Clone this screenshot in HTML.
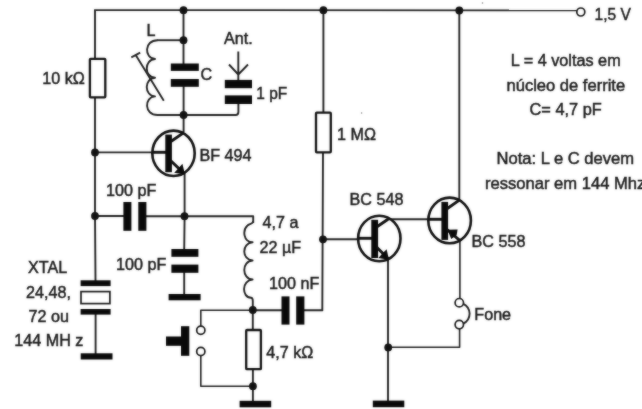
<!DOCTYPE html>
<html>
<head>
<meta charset="utf-8">
<title>Circuito</title>
<style>
html,body{margin:0;padding:0;background:#fff;}
body{width:642px;height:409px;overflow:hidden;}
svg{display:block;filter:blur(0.4px);}
#wrap{position:relative;width:642px;height:409px;overflow:hidden;}
#soft{position:absolute;left:0;top:0;width:642px;height:409px;-webkit-backdrop-filter:blur(1px);backdrop-filter:blur(1px);opacity:0.45;pointer-events:none;}
text{font-family:"Liberation Sans",sans-serif;font-size:17px;fill:#1c1c1c;stroke:#1c1c1c;stroke-width:0.5;}
.w{stroke:#222;stroke-width:1.9;fill:none;stroke-linecap:butt;stroke-linejoin:round;}
.k{stroke:#111;stroke-width:2.9;fill:none;stroke-linecap:butt;}
.t{stroke:#111;stroke-width:2.6;fill:none;}
.b{fill:#0a0a0a;stroke:none;}
.r{fill:#fff;stroke:#111;stroke-width:2.3;}
.c{fill:#fff;stroke:#1a1a1a;stroke-width:1.7;}
.d{fill:#111;}
</style>
</head>
<body>
<div id="wrap">
<svg width="642" height="409" viewBox="0 0 642 409">
<rect width="642" height="409" fill="#fff"/>
<g id="wires" class="w">
  <!-- top rail -->
  <path stroke-width="1.7" d="M94.1 10.1L577 10.4"/>
  <!-- left column -->
  <path d="M95 10V216L95.5 281M95.6 314V354"/>
  <!-- tank -->
  <path d="M183.5 10V64M183.6 86V132"/>
  <path d="M183.5 40.2H157"/>
  <path d="M157 115H235.6Q238.4 115 238.4 112V103"/>
  <path stroke-width="1.9" d="M238.3 51.5V80M229 64.5L238.3 74.5L248 64.5"/>
  <!-- inductor L -->
  <path stroke-width="1.9" d="M157.5 40.2C144 40.2 144 58.2 155 59C144 59.8 144 77 155 77.8C144 78.6 144 95.6 155 96.4C144 97.2 144 115 157.5 115"/>
  <path d="M135.7 55L163.8 100.7M131.3 57.3L140.2 52.6"/>
  <!-- Q1 -->
  <path d="M95 152.4H153"/>
  <path d="M184.6 173V216L184.2 250M184.2 272V295"/>
  <path d="M95 216H124M146 216.2H253.2V223"/>
  <!-- choke -->
  <path stroke-width="1.9" d="M253.2 221C253 224.5 250 223 247.5 225.5C242.5 230 243 241.6 252.6 242.3C241.5 243.1 241.5 259.7 252.6 260.5C241.5 261.3 241.5 278.7 252.6 279.5C241.5 280.3 241.5 297.3 251 297.8Q252.8 298 252.8 301V310"/>
  <!-- bottom -->
  <path d="M252.8 310.3H282M304 310.3H322.9"/>
  <path d="M252.8 310V330M252.9 369V401"/>
  <path stroke-width="1.6" d="M253 310.3H200.8V326.2M200.8 355.6V386.2H253"/>
  <!-- 1M column -->
  <path d="M323.4 10V113M323 152L322.3 311"/>
  <path d="M323 239.2H358"/>
  <!-- Q2 / Q3 -->
  <path d="M388 258V401"/>
  <path d="M387.5 219.3H428.5"/>
  <path d="M459.3 10V201"/>
  <path stroke-width="1.6" d="M459.9 240V298.5M459.6 328.8V347.3H388"/>
  <path d="M463.3 303.8Q469.2 306.5 469.6 313.5Q469.6 320.5 463.3 323.6"/>
</g>
<g id="parts">
  <rect class="r" x="89.9" y="58.8" width="15.4" height="38.6" rx="0.8"/>
  <rect class="r" x="316" y="112.6" width="14.8" height="39.7" rx="0.8"/>
  <rect class="r" x="246.2" y="330" width="14.7" height="39.2" rx="0.8"/>
  <!-- caps -->
  <rect class="b" x="170.8" y="63.5" width="28" height="7.4"/>
  <rect class="b" x="170.8" y="79" width="28" height="7.8"/>
  <rect class="b" x="224.8" y="79.9" width="27.2" height="8.3"/>
  <rect class="b" x="224.8" y="95.4" width="27.2" height="8.6"/>
  <rect class="b" x="123.4" y="202" width="8" height="28.8"/>
  <rect class="b" x="138.3" y="202" width="8.1" height="28.8"/>
  <rect class="b" x="171.4" y="249" width="27" height="7.8"/>
  <rect class="b" x="171.4" y="264.6" width="27" height="8.2"/>
  <rect class="b" x="168.6" y="294" width="32" height="6.3"/>
  <rect class="b" x="281.5" y="296.4" width="8" height="28.2"/>
  <rect class="b" x="296.2" y="296.4" width="8.2" height="28.2"/>
  <rect class="b" x="239.6" y="400.8" width="31.6" height="6.5"/>
  <rect class="b" x="372.8" y="400.6" width="31.5" height="6.6"/>
  <!-- xtal -->
  <rect class="b" x="80.6" y="280.3" width="30" height="5.8"/>
  <rect class="c" x="81" y="291.6" width="28.9" height="12"/>
  <rect class="b" x="80.6" y="309" width="30" height="5.6"/>
  <rect class="b" x="80.7" y="353.3" width="31.8" height="6.2"/>
  <!-- push button -->
  <rect class="b" x="181" y="326.2" width="8.3" height="29.6"/>
  <rect class="b" x="166" y="336.5" width="16" height="9.3"/>
  <circle class="c" cx="200.8" cy="330.3" r="4.1"/>
  <circle class="c" cx="200.8" cy="351.5" r="4.1"/>
  <!-- fone -->
  <circle class="c" cx="459.3" cy="302.7" r="4.2"/>
  <circle class="c" cx="459.3" cy="324.6" r="4.2"/>
  <circle class="c" cx="580.8" cy="12" r="4"/>
  <!-- transistors -->
  <g id="q1">
    <ellipse class="t" cx="173.5" cy="153.3" rx="21.2" ry="22.7"/>
    <path class="k" stroke-width="3" d="M152.5 152.3H167"/>
    <rect class="b" x="165.3" y="134.6" width="6.6" height="37.6"/>
    <path class="k" d="M170.5 141.8L183.8 132.6M170.5 160.5L184.2 173.6"/>
    <path class="b" d="M185 174.6L174.2 172.8L178.3 168.6L182.4 163.8Z"/>
  </g>
  <g id="q2">
    <ellipse class="t" cx="379.3" cy="238.5" rx="21.2" ry="22.7"/>
    <path class="k" stroke-width="3" d="M358 238.3H373"/>
    <rect class="b" x="371.3" y="219.8" width="6.8" height="38.2"/>
    <path class="k" d="M377 226.8L388 219.2M377 247.5L388.2 258.8"/>
    <path class="b" d="M389 259.8L378.4 257.9L382.4 253.6L386.6 249.2Z"/>
  </g>
  <g id="q3">
    <ellipse class="t" cx="449.6" cy="220.4" rx="21.3" ry="22.8"/>
    <path class="k" stroke-width="3" d="M428.4 219.3H443"/>
    <rect class="b" x="441.4" y="201.9" width="6.7" height="38"/>
    <path class="k" d="M447 208.8L459 200.4M447 229.5L460 240.6"/>
    <path class="b" d="M447.6 229.8L457.6 229.4L456.6 235.2L451.2 239Z"/>
  </g>
</g>
<g id="dots" class="d">
  <circle cx="183.5" cy="10.2" r="3.9"/>
  <circle cx="183.5" cy="40.2" r="3.9"/>
  <circle cx="183.6" cy="115" r="3.9"/>
  <circle cx="95" cy="152.4" r="3.9"/>
  <circle cx="95" cy="216" r="3.9"/>
  <circle cx="184.5" cy="216.2" r="3.9"/>
  <circle cx="252.8" cy="310" r="3.9"/>
  <circle cx="252.9" cy="386.2" r="3.9"/>
  <circle cx="323.4" cy="10.2" r="3.9"/>
  <circle cx="323" cy="239.3" r="3.9"/>
  <circle cx="459.3" cy="10.5" r="3.9"/>
  <circle cx="388.2" cy="347.4" r="3.9"/>
</g>
<g id="specks" fill="#8a8a8a">
  <circle cx="482.5" cy="3" r="0.8"/>
  <circle cx="361.6" cy="113" r="0.8"/>
</g>

<g id="labels">
  <text transform="translate(42.3 84.2) scale(0.95 1)">10 kΩ</text>
  <text transform="translate(146.5 35.8) scale(0.95 1)">L</text>
  <text transform="translate(200.5 80.4) scale(0.95 1)">C</text>
  <text transform="translate(224 44.2) scale(0.95 1)">Ant.</text>
  <text transform="translate(256.3 99.2) scale(0.91 1)">1 pF</text>
  <text transform="translate(199.5 161.3) scale(0.95 1)">BF 494</text>
  <text transform="translate(106 196.1) scale(0.95 1)">100 pF</text>
  <text transform="translate(116 269.7) scale(0.95 1)">100 pF</text>
  <text transform="translate(28 273.2) scale(0.95 1)">XTAL</text>
  <text transform="translate(26 298.2) scale(0.95 1)">24,48,</text>
  <text transform="translate(28.6 322.2) scale(0.95 1)">72 ou</text>
  <text transform="translate(14.3 346.2) scale(0.95 1)">144 MH z</text>
  <text transform="translate(262.5 227.8) scale(0.95 1)">4,7 a</text>
  <text transform="translate(259.5 252.6) scale(0.95 1)">22 µF</text>
  <text transform="translate(269 288.8) scale(0.95 1)">100 nF</text>
  <text transform="translate(266.3 357.8) scale(0.95 1)">4,7 kΩ</text>
  <text transform="translate(337 140.2) scale(0.95 1)">1 MΩ</text>
  <text transform="translate(349.5 205.2) scale(0.95 1)">BC 548</text>
  <text transform="translate(471.5 247) scale(0.95 1)">BC 558</text>
  <text transform="translate(474.3 319.9) scale(0.95 1)">Fone</text>
  <text transform="translate(594.6 19.8) scale(0.915 1)">1,5 V</text>
  <text transform="translate(510.8 66.2) scale(0.955 1)">L = 4 voltas em</text>
  <text transform="translate(506.5 90.7) scale(0.974 1)">núcleo de ferrite</text>
  <text transform="translate(529.5 115.2) scale(0.962 1)">C= 4,7 pF</text>
  <text transform="translate(496.5 164.2) scale(0.976 1)">Nota: L e C devem</text>
  <text transform="translate(485 189.2) scale(0.976 1)">ressonar em 144 Mhz</text>
</g>
</svg>
<div id="soft"></div>
</div>
</body>
</html>
